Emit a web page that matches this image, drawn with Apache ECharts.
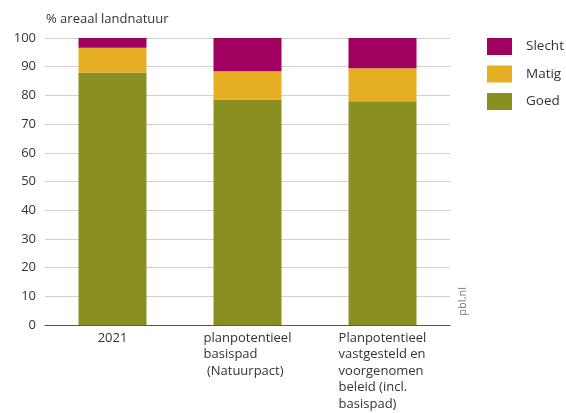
<!DOCTYPE html>
<html>
<head>
<meta charset="utf-8">
<script src="https://cdn.jsdelivr.net/npm/echarts@6/dist/echarts.min.js"></script>
<style>html,body{margin:0;padding:0;background:#fff}#c{width:566px;height:413px}</style>
</head>
<body>
<div id="c"></div>
<script>
const categories = ['2021', 'planpotentieel\nbasispad\n (Natuurpact)', 'Planpotentieel\nvastgesteld en\nvoorgenomen\nbeleid (incl.\nbasispad)'];
const goed = [88, 78.5, 78];
const matig = [8.6, 9.9, 11.5];
const slecht = [3.4, 11.6, 10.5];
const yTicks = [0, 10, 20, 30, 40, 50, 60, 70, 80, 90, 100];

const font = '"Open Sans", "Noto Sans", sans-serif';
const chart = echarts.init(document.getElementById('c'), null, {renderer: 'canvas'});
chart.setOption({
  animation: false,
  textStyle: {fontFamily: font},
  title: {
    text: '% areaal landnatuur', left: 41, top: 8,
    textStyle: {fontSize: 13, fontWeight: 'normal', color: '#333', fontFamily: font}
  },
  legend: {
    orient: 'vertical', left: 482, top: 33,
    itemWidth: 25, itemHeight: 17, itemGap: 10.5,
    data: ['Slecht', 'Matig', 'Goed'],
    textStyle: {fontSize: 13.5, color: '#333', padding: [0, 0, 0, 9], fontFamily: font},
    icon: 'rect'
  },
  grid: {left: 45, right: 116, top: 38, bottom: 88, outerBoundsMode: 'none', containLabel: false},
  xAxis: {
    type: 'category',
    data: categories,
    axisTick: {show: false},
    axisLine: {lineStyle: {color: '#555', width: 1.2}},
    axisLabel: {
      align: 'center', color: '#333', fontSize: 13, lineHeight: 16.5, margin: 5, interval: 0, fontFamily: font,
      formatter: v => v.split('\n').map(s => '{l|' + s + '}').join('\n'),
      rich: {l: {align: 'left', fontSize: 13, lineHeight: 16.5, color: '#333', fontFamily: font}}
    }
  },
  yAxis: {
    type: 'value', min: yTicks[0], max: yTicks[yTicks.length - 1], interval: 10,
    axisLine: {show: false}, axisTick: {show: false},
    splitLine: {lineStyle: {color: '#d0d0d0'}},
    axisLabel: {color: '#333', fontSize: 13, margin: 9, fontFamily: font}
  },
  graphic: [{
    type: 'text', left: 457, top: 287, rotation: Math.PI / 2,
    style: {text: 'pbl.nl', fill: '#777', font: '11px ' + font}
  }],
  series: [
    {name: 'Goed', type: 'bar', stack: 's', data: goed, barWidth: 68, itemStyle: {color: '#8A8F22'}},
    {name: 'Matig', type: 'bar', stack: 's', data: matig, itemStyle: {color: '#E6AE22'}},
    {name: 'Slecht', type: 'bar', stack: 's', data: slecht, itemStyle: {color: '#A0005F'}}
  ]
});
</script>
</body>
</html>
